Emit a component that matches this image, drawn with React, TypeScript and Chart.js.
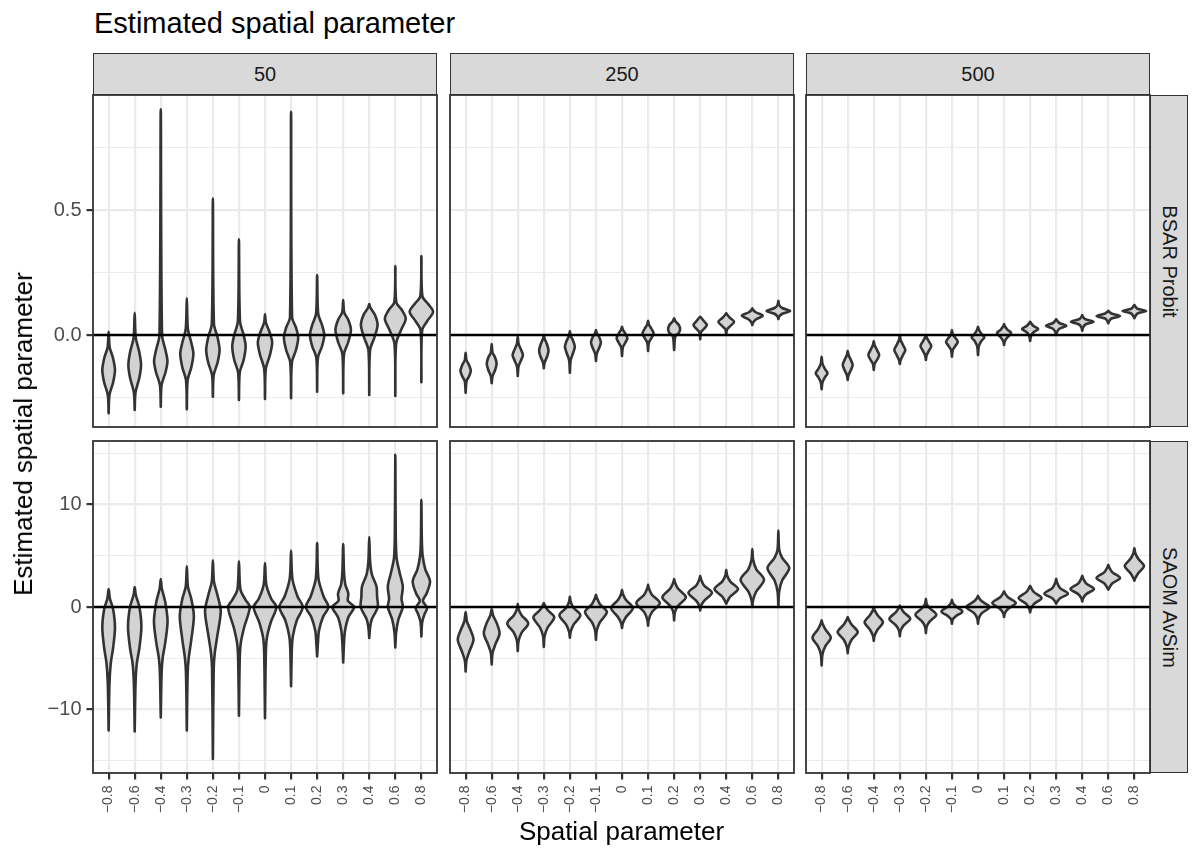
import React, { useEffect, useRef } from 'react';
import { Chart, registerables } from 'chart.js';

Chart.register(...registerables);

const FONT = "'Liberation Sans', Arial, Helvetica, sans-serif";

// ---------------- data ----------------
const spatialParams = ['-0.8', '-0.6', '-0.4', '-0.3', '-0.2', '-0.1', '0', '0.1', '0.2', '0.3', '0.4', '0.6', '0.8'];
const sampleSizes = ['50', '250', '500'];
const methods = ['BSAR Probit', 'SAOM AvSim'];
const bsarMajorTicks = [0, 0.5];
const saomMajorTicks = [-10, 0, 10];

// each violin: [min, max, [[value, relative density], ...]] (density 1 = widest violin)
type Violin = [number, number, [number, number][]];

const bsar50: Violin[] = [
  [-0.313, 0.013, [[-0.24, 0.07], [-0.19, 0.38], [-0.14, 0.54], [-0.09, 0.36], [-0.05, 0.09]]],
  [-0.3, 0.089, [[-0.23, 0.07], [-0.17, 0.4], [-0.12, 0.54], [-0.07, 0.4], [-0.01, 0.09]]],
  [-0.287, 0.903, [[-0.2, 0.07], [-0.15, 0.4], [-0.105, 0.57], [-0.06, 0.4], [0.0, 0.11]]],
  [-0.297, 0.147, [[-0.18, 0.07], [-0.13, 0.38], [-0.075, 0.56], [-0.03, 0.38], [0.025, 0.09]]],
  [-0.247, 0.547, [[-0.16, 0.07], [-0.11, 0.4], [-0.06, 0.57], [-0.01, 0.4], [0.045, 0.09]]],
  [-0.26, 0.383, [[-0.15, 0.07], [-0.1, 0.4], [-0.045, 0.57], [0.0, 0.4], [0.055, 0.09]]],
  [-0.256, 0.083, [[-0.135, 0.07], [-0.08, 0.42], [-0.03, 0.61], [0.01, 0.4], [0.05, 0.07]]],
  [-0.253, 0.893, [[-0.11, 0.07], [-0.06, 0.42], [-0.01, 0.61], [0.03, 0.42], [0.07, 0.09]]],
  [-0.227, 0.24, [[-0.09, 0.07], [-0.045, 0.42], [0.0, 0.61], [0.04, 0.42], [0.085, 0.09]]],
  [-0.233, 0.14, [[-0.075, 0.07], [-0.03, 0.42], [0.02, 0.66], [0.06, 0.44], [0.09, 0.09]]],
  [-0.24, 0.124, [[-0.06, 0.07], [-0.01, 0.44], [0.04, 0.71], [0.08, 0.49], [0.11, 0.09]]],
  [-0.244, 0.276, [[-0.035, 0.07], [0.02, 0.49], [0.065, 0.89], [0.1, 0.56], [0.13, 0.09]]],
  [-0.189, 0.316, [[0.02, 0.07], [0.055, 0.49], [0.093, 1.0], [0.125, 0.56], [0.155, 0.09]]],
];

const bsar250: Violin[] = [
  [-0.231, -0.071, [[-0.185, 0.07], [-0.165, 0.29], [-0.143, 0.44], [-0.12, 0.29], [-0.1, 0.07]]],
  [-0.193, -0.036, [[-0.165, 0.07], [-0.14, 0.29], [-0.115, 0.42], [-0.09, 0.29], [-0.07, 0.07]]],
  [-0.164, -0.007, [[-0.125, 0.07], [-0.1, 0.29], [-0.08, 0.44], [-0.06, 0.29], [-0.035, 0.07]]],
  [-0.133, 0.0, [[-0.11, 0.07], [-0.085, 0.29], [-0.063, 0.4], [-0.04, 0.29], [-0.015, 0.07]]],
  [-0.151, 0.016, [[-0.1, 0.07], [-0.07, 0.29], [-0.047, 0.42], [-0.025, 0.29], [-0.003, 0.07]]],
  [-0.104, 0.02, [[-0.075, 0.07], [-0.05, 0.29], [-0.03, 0.42], [-0.01, 0.29], [0.008, 0.07]]],
  [-0.084, 0.033, [[-0.05, 0.07], [-0.03, 0.29], [-0.013, 0.46], [0.005, 0.29], [0.022, 0.07]]],
  [-0.064, 0.057, [[-0.03, 0.07], [-0.012, 0.29], [0.007, 0.47], [0.025, 0.29], [0.042, 0.07]]],
  [-0.06, 0.067, [[-0.005, 0.11], [0.008, 0.4], [0.023, 0.51], [0.04, 0.4], [0.055, 0.11]]],
  [-0.017, 0.073, [[0.012, 0.07], [0.025, 0.33], [0.04, 0.57], [0.055, 0.33], [0.07, 0.07]]],
  [0.004, 0.087, [[0.022, 0.07], [0.035, 0.33], [0.053, 0.67], [0.068, 0.33], [0.082, 0.07]]],
  [0.04, 0.107, [[0.05, 0.07], [0.063, 0.33], [0.077, 0.89], [0.09, 0.33], [0.1, 0.07]]],
  [0.064, 0.137, [[0.074, 0.07], [0.085, 0.33], [0.096, 1.0], [0.108, 0.33], [0.12, 0.07]]],
];

const bsar500: Violin[] = [
  [-0.217, -0.087, [[-0.19, 0.07], [-0.17, 0.27], [-0.153, 0.5], [-0.135, 0.27], [-0.115, 0.07]]],
  [-0.18, -0.063, [[-0.16, 0.07], [-0.14, 0.27], [-0.12, 0.42], [-0.1, 0.27], [-0.08, 0.07]]],
  [-0.14, -0.024, [[-0.115, 0.07], [-0.1, 0.27], [-0.08, 0.46], [-0.06, 0.27], [-0.04, 0.07]]],
  [-0.116, 0.0, [[-0.1, 0.07], [-0.08, 0.27], [-0.06, 0.47], [-0.04, 0.27], [-0.02, 0.07]]],
  [-0.1, 0.0, [[-0.08, 0.07], [-0.062, 0.27], [-0.044, 0.46], [-0.027, 0.27], [-0.01, 0.07]]],
  [-0.087, 0.02, [[-0.06, 0.07], [-0.045, 0.27], [-0.027, 0.5], [-0.01, 0.27], [0.003, 0.07]]],
  [-0.08, 0.033, [[-0.045, 0.07], [-0.025, 0.27], [-0.009, 0.54], [0.006, 0.27], [0.022, 0.07]]],
  [-0.04, 0.044, [[-0.025, 0.07], [-0.01, 0.27], [0.007, 0.61], [0.022, 0.27], [0.035, 0.07]]],
  [-0.024, 0.053, [[-0.005, 0.07], [0.01, 0.27], [0.024, 0.69], [0.037, 0.27], [0.048, 0.07]]],
  [0.0, 0.063, [[0.012, 0.07], [0.025, 0.27], [0.037, 0.86], [0.048, 0.27], [0.058, 0.07]]],
  [0.017, 0.08, [[0.03, 0.07], [0.042, 0.27], [0.053, 0.96], [0.063, 0.27], [0.072, 0.07]]],
  [0.047, 0.097, [[0.055, 0.07], [0.066, 0.27], [0.076, 1.0], [0.086, 0.27], [0.093, 0.07]]],
  [0.067, 0.12, [[0.074, 0.07], [0.086, 0.27], [0.096, 1.0], [0.105, 0.27], [0.115, 0.07]]],
];

const saom50: Violin[] = [
  [-12.04, 1.76, [[-7.5, 0.07], [-5.5, 0.18], [-4, 0.38], [-2, 0.54], [-0.2, 0.38], [0.8, 0.11]]],
  [-12.14, 1.95, [[-7.5, 0.07], [-5.5, 0.18], [-4, 0.4], [-1.9, 0.57], [0, 0.4], [1.2, 0.09]]],
  [-10.77, 2.73, [[-6.5, 0.07], [-5, 0.16], [-3.5, 0.38], [-1.4, 0.58], [0.5, 0.38], [1.8, 0.09]]],
  [-12.04, 3.96, [[-6.5, 0.07], [-5, 0.16], [-3.2, 0.38], [-0.9, 0.6], [0.8, 0.38], [2, 0.09]]],
  [-14.83, 4.55, [[-6, 0.07], [-4.5, 0.16], [-2.8, 0.38], [-0.4, 0.67], [1.2, 0.38], [2.5, 0.09]]],
  [-10.6, 4.45, [[-5, 0.07], [-3.5, 0.16], [-2, 0.44], [0, 0.93], [0.7, 0.56], [1.7, 0.13]]],
  [-10.85, 4.29, [[-4.5, 0.07], [-3, 0.16], [-1.5, 0.49], [0, 0.97], [0.8, 0.53], [2.2, 0.11]]],
  [-7.74, 5.52, [[-4, 0.07], [-2.8, 0.16], [-1.3, 0.49], [0, 1.0], [1, 0.56], [2.8, 0.11]]],
  [-4.82, 6.24, [[-3.5, 0.07], [-2.3, 0.16], [-1, 0.49], [0, 0.96], [1, 0.56], [2.8, 0.11]]],
  [-5.4, 6.15, [[-3.5, 0.07], [-2.3, 0.16], [-1, 0.44], [0, 0.93], [0.6, 0.4], [1.3, 0.44], [2.2, 0.18], [3.4, 0.07]]],
  [-3.03, 6.83, [[-2, 0.07], [-1.2, 0.22], [0, 0.73], [1, 0.67], [2, 0.62], [3.2, 0.22], [4.5, 0.07]]],
  [-3.94, 14.86, [[-2.5, 0.07], [-1.2, 0.27], [0, 0.64], [0.8, 0.53], [2, 0.64], [3.3, 0.38], [4.8, 0.11], [7, 0.04]]],
  [-2.87, 10.47, [[-1.5, 0.07], [-0.7, 0.27], [-0.1, 0.49], [0.6, 0.13], [1.3, 0.44], [2.5, 0.74], [3.7, 0.33], [5, 0.11], [6.5, 0.04]]],
];

const saom250: Violin[] = [
  [-6.3, -0.5, [[-5.2, 0.07], [-4.3, 0.33], [-3.2, 0.67], [-2.2, 0.4], [-1.4, 0.11]]],
  [-5.6, -0.2, [[-4.5, 0.07], [-3.6, 0.33], [-2.6, 0.67], [-1.6, 0.44], [-0.8, 0.11]]],
  [-4.3, 0.32, [[-3.3, 0.07], [-2.5, 0.33], [-1.6, 0.89], [-0.8, 0.33], [-0.2, 0.07]]],
  [-3.9, 0.39, [[-2.8, 0.07], [-2, 0.33], [-1.0, 0.89], [-0.3, 0.33], [0.2, 0.07]]],
  [-3.0, 1.03, [[-2.4, 0.07], [-1.7, 0.33], [-0.8, 0.89], [-0.1, 0.33], [0.5, 0.07]]],
  [-3.2, 1.2, [[-2.3, 0.07], [-1.5, 0.33], [-0.5, 0.93], [0.3, 0.33], [0.9, 0.07]]],
  [-2.05, 1.69, [[-1.6, 0.07], [-1, 0.33], [-0.1, 0.93], [0.7, 0.33], [1.3, 0.07]]],
  [-1.82, 2.18, [[-1.2, 0.07], [-0.5, 0.33], [0.4, 1.0], [1.2, 0.33], [1.8, 0.07]]],
  [-1.3, 2.73, [[-0.5, 0.07], [0.1, 0.33], [0.95, 1.0], [1.8, 0.33], [2.4, 0.07]]],
  [-0.33, 3.05, [[0.1, 0.07], [0.6, 0.33], [1.4, 1.0], [2.1, 0.33], [2.7, 0.07]]],
  [0.32, 3.64, [[0.5, 0.07], [1.0, 0.33], [1.75, 1.0], [2.5, 0.33], [3.1, 0.07]]],
  [0.0, 5.66, [[0.7, 0.07], [1.5, 0.33], [2.65, 1.0], [3.7, 0.33], [4.6, 0.07]]],
  [0.0, 7.47, [[1.5, 0.07], [2.6, 0.33], [3.8, 0.93], [4.8, 0.33], [5.6, 0.07]]],
];

const saom500: Violin[] = [
  [-5.7, -1.3, [[-4.6, 0.07], [-3.8, 0.33], [-3.0, 0.78], [-2.2, 0.33], [-1.6, 0.07]]],
  [-4.5, -0.98, [[-3.9, 0.07], [-3.2, 0.33], [-2.45, 0.86], [-1.7, 0.33], [-1.2, 0.07]]],
  [-3.3, 0.0, [[-2.8, 0.07], [-2.2, 0.33], [-1.5, 0.78], [-0.8, 0.33], [-0.3, 0.07]]],
  [-2.86, 0.13, [[-2.3, 0.07], [-1.8, 0.33], [-1.15, 0.89], [-0.5, 0.33], [-0.05, 0.07]]],
  [-2.54, 0.81, [[-1.9, 0.07], [-1.4, 0.33], [-0.75, 0.89], [-0.1, 0.33], [0.3, 0.07]]],
  [-1.63, 0.71, [[-1.2, 0.07], [-0.9, 0.33], [-0.43, 0.89], [0.05, 0.33], [0.4, 0.07]]],
  [-1.63, 1.1, [[-1.1, 0.07], [-0.6, 0.33], [0, 1.0], [0.55, 0.33], [0.9, 0.07]]],
  [-0.98, 1.52, [[-0.6, 0.07], [-0.2, 0.33], [0.4, 1.0], [0.95, 0.33], [1.35, 0.07]]],
  [-0.52, 2.08, [[-0.2, 0.07], [0.3, 0.33], [0.88, 0.98], [1.45, 0.33], [1.9, 0.07]]],
  [0.32, 2.76, [[0.5, 0.07], [0.85, 0.33], [1.3, 1.0], [1.85, 0.33], [2.4, 0.07]]],
  [0.55, 3.05, [[0.85, 0.07], [1.25, 0.33], [1.75, 1.0], [2.3, 0.33], [2.8, 0.07]]],
  [1.69, 4.13, [[1.85, 0.07], [2.3, 0.33], [2.83, 1.0], [3.4, 0.33], [3.9, 0.07]]],
  [2.57, 5.75, [[2.8, 0.07], [3.3, 0.33], [4.0, 0.82], [4.7, 0.33], [5.3, 0.07]]],
];

const panelData: Violin[][][] = [
  [bsar50, bsar250, bsar500],
  [saom50, saom250, saom500],
];

// ---------------- layout / style ----------------
const COL_LEFT = [93, 450, 806];
const ROW_TOP = [95, 441];
const PANEL_W = 344;
const PANEL_H = 332;
const STRIP_TOP = 53;
const STRIP_RIGHT_W = 38;
const Y_AXIS_W = 60;
const X_AXIS_H = 62;
const PAD = 3;
const X_MIN = 0.4;
const X_MAX = 13.6;
const MAX_HALF = 0.45;
const GRID = '#ebebeb';
const DARK = '#333333';
const FILL = '#d3d3d3';

const rowAxes = [
  { min: -0.368, max: 0.96, step: 0.25, major: bsarMajorTicks, decimals: 1 },
  { min: -16.2, max: 16.2, step: 5, major: saomMajorTicks, decimals: 0 },
];

const minus = (s: string) => s.replace('-', '\u2212');

const panelBorder = {
  id: 'panelBorder',
  afterDatasetsDraw(chart: any) {
    const { ctx, chartArea: a } = chart;
    ctx.save();
    ctx.strokeStyle = DARK;
    ctx.lineWidth = 1.8;
    ctx.strokeRect(a.left, a.top, a.right - a.left, a.bottom - a.top);
    ctx.restore();
  },
};

function Panel({ row, col }: { row: number; col: number }) {
  const ref = useRef<HTMLCanvasElement>(null);
  const isLeft = col === 0;
  const isBottom = row === 1;
  const yW = isLeft ? Y_AXIS_W : 0;
  const xH = isBottom ? X_AXIS_H : 0;
  const width = PAD + yW + PANEL_W + PAD;
  const height = PAD + PANEL_H + xH + PAD;

  useEffect(() => {
    const ax = rowAxes[row];
    const isMajor = (v: number) => ax.major.some((m) => Math.abs(m - v) < 1e-9);
    const violins = panelData[row][col];
    const datasets: any[] = [
      {
        data: [{ x: X_MIN, y: 0 }, { x: X_MAX, y: 0 }],
        showLine: true,
        borderColor: '#000000',
        borderWidth: 2.4,
        pointRadius: 0,
        fill: false,
        tension: 0,
      },
    ];
    violins.forEach(([lo, hi, knots], i) => {
      const c = i + 1;
      const right = knots.map(([v, d]) => ({ x: c + d * MAX_HALF, y: v }));
      const left = knots
        .slice()
        .reverse()
        .map(([v, d]) => ({ x: c - d * MAX_HALF, y: v }));
      datasets.push({
        data: [{ x: c, y: lo }, ...right, { x: c, y: hi }, ...left, { x: c, y: lo }],
        showLine: true,
        borderColor: DARK,
        borderWidth: 2.6,
        backgroundColor: FILL,
        fill: 'shape',
        tension: 0.3,
        pointRadius: 0,
        borderJoinStyle: 'round',
        borderCapStyle: 'round',
      });
    });

    const chart = new Chart(ref.current!, {
      type: 'scatter',
      data: { datasets },
      plugins: [panelBorder],
      options: {
        animation: false,
        responsive: false,
        maintainAspectRatio: false,
        events: [],
        layout: { padding: PAD, autoPadding: false },
        plugins: {
          legend: { display: false },
          tooltip: { enabled: false },
        },
        scales: {
          x: {
            type: 'linear',
            min: X_MIN,
            max: X_MAX,
            afterFit: (s: any) => {
              s.height = xH;
              s.paddingLeft = 0;
              s.paddingRight = 0;
              s.paddingTop = 0;
              s.paddingBottom = 0;
            },
            border: { display: false },
            grid: {
              color: GRID,
              lineWidth: 2.2,
              drawTicks: isBottom,
              tickLength: 6.5,
              tickColor: DARK,
              tickWidth: 2.2,
            },
            ticks: {
              display: isBottom,
              stepSize: 1,
              includeBounds: false,
              autoSkip: false,
              minRotation: 90,
              maxRotation: 90,
              padding: 6,
              color: '#4d4d4d',
              font: { size: 14, family: FONT },
              callback: (v: any) => {
                const lab = spatialParams[Math.round(Number(v)) - 1];
                return lab === undefined ? '' : minus(lab);
              },
            },
          },
          y: {
            type: 'linear',
            min: ax.min,
            max: ax.max,
            afterFit: (s: any) => {
              s.width = yW;
              s.paddingLeft = 0;
              s.paddingRight = 0;
              s.paddingTop = 0;
              s.paddingBottom = 0;
            },
            border: { display: false },
            grid: {
              color: GRID,
              lineWidth: (c: any) => (c.tick && isMajor(c.tick.value) ? 2.2 : 1.1),
              drawTicks: isLeft,
              tickLength: 6.5,
              tickColor: (c: any) => (c.tick && isMajor(c.tick.value) ? DARK : 'rgba(0,0,0,0)'),
              tickWidth: 2.2,
            },
            ticks: {
              display: isLeft,
              stepSize: ax.step,
              includeBounds: false,
              autoSkip: false,
              padding: 5,
              color: '#4d4d4d',
              font: { size: 20, family: FONT },
              callback: (v: any) => (isMajor(Number(v)) ? minus(Number(v).toFixed(ax.decimals)) : ''),
            },
          },
        },
      } as any,
    });
    return () => chart.destroy();
  }, [row, col]);

  return (
    <canvas
      ref={ref}
      width={width}
      height={height}
      style={{
        position: 'absolute',
        left: COL_LEFT[col] - yW - PAD,
        top: ROW_TOP[row] - PAD,
        width,
        height,
      }}
    />
  );
}

export default function App() {
  const stripBorder = `1.8px solid ${DARK}`;
  return (
    <div
      style={{
        position: 'fixed',
        left: 0,
        top: 0,
        width: 1192,
        height: 848,
        background: '#ffffff',
        overflow: 'hidden',
        fontFamily: FONT,
      }}
    >
      <div
        style={{
          position: 'absolute',
          left: 94,
          top: 8.5,
          fontSize: 29,
          lineHeight: 1,
          color: '#000',
          whiteSpace: 'nowrap',
        }}
      >
        Estimated spatial parameter
      </div>

      {sampleSizes.map((s, c) => (
        <div
          key={'ts' + s}
          style={{
            position: 'absolute',
            left: COL_LEFT[c],
            top: STRIP_TOP,
            width: PANEL_W,
            height: ROW_TOP[0] - STRIP_TOP,
            boxSizing: 'border-box',
            background: '#d9d9d9',
            border: stripBorder,
            display: 'flex',
            alignItems: 'center',
            justifyContent: 'center',
            fontSize: 20,
            color: '#1a1a1a',
          }}
        >
          {s}
        </div>
      ))}

      {methods.map((m, r) => (
        <div
          key={'rs' + m}
          style={{
            position: 'absolute',
            left: COL_LEFT[2] + PANEL_W,
            top: ROW_TOP[r],
            width: STRIP_RIGHT_W,
            height: PANEL_H,
            boxSizing: 'border-box',
            background: '#d9d9d9',
            border: stripBorder,
            display: 'flex',
            alignItems: 'center',
            justifyContent: 'center',
            fontSize: 20,
            color: '#1a1a1a',
          }}
        >
          <span style={{ transform: 'rotate(90deg)', whiteSpace: 'nowrap', display: 'inline-block' }}>{m}</span>
        </div>
      ))}

      {[0, 1].map((r) => [0, 1, 2].map((c) => <Panel key={`p${r}${c}`} row={r} col={c} />))}

      <div
        style={{
          position: 'absolute',
          left: 23,
          top: (ROW_TOP[0] + ROW_TOP[1] + PANEL_H) / 2,
          transform: 'translate(-50%, -50%) rotate(-90deg)',
          fontSize: 26,
          lineHeight: 1,
          color: '#000',
          whiteSpace: 'nowrap',
        }}
      >
        Estimated spatial parameter
      </div>
      <div
        style={{
          position: 'absolute',
          left: (COL_LEFT[0] + COL_LEFT[2] + PANEL_W) / 2,
          top: 818,
          transform: 'translateX(-50%)',
          fontSize: 26,
          lineHeight: 1,
          color: '#000',
          whiteSpace: 'nowrap',
        }}
      >
        Spatial parameter
      </div>
    </div>
  );
}
